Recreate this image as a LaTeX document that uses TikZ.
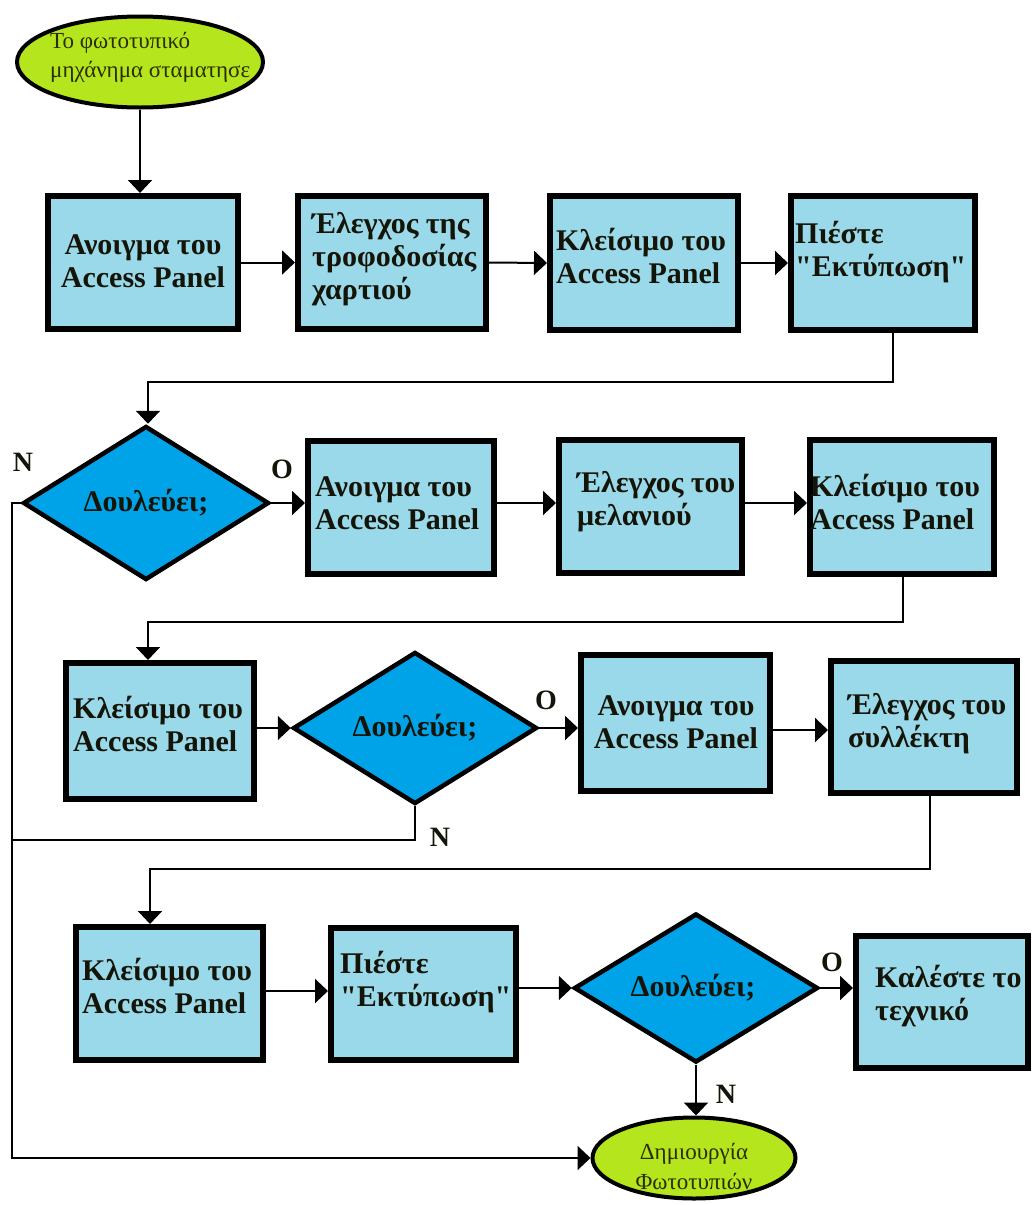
\documentclass[tikz,border=0pt]{standalone}
\usepackage{fontspec}
\setmainfont{Liberation Serif}[Ligatures=TeXOff]
\usetikzlibrary{shapes.geometric,arrows.meta}
\definecolor{boxfill}{HTML}{99D9EA}
\definecolor{decfill}{HTML}{00A2E8}
\definecolor{termfill}{HTML}{B5E61D}
\definecolor{inktext}{HTML}{141408}
\definecolor{termtext}{HTML}{2B2E05}

\begin{document}
\begin{tikzpicture}[x=1pt,y=-1pt,
  box/.style={draw, line width=6pt, fill=boxfill, rectangle, inner sep=0pt},
  decision/.style={draw, line width=4.5pt, fill=decfill, diamond, inner sep=0pt},
  term/.style={draw, line width=4pt, fill=termfill, ellipse, inner sep=0pt},
  btext/.style={font=\fontsize{30}{33}\selectfont\bfseries, text=inktext, inner sep=0pt, align=left, anchor=west},
  ctext/.style={font=\fontsize{30}{33}\selectfont\bfseries, text=inktext, inner sep=0pt, align=center},
  dtext/.style={font=\fontsize{30}{32}\selectfont\bfseries, text=inktext, inner sep=0pt},
  ttext/.style={text=termtext, inner sep=0pt},
  tag/.style={font=\fontsize{28}{30}\selectfont\bfseries, text=inktext, inner sep=0pt},
  wire/.style={line width=2pt},
  conn/.style={line width=2pt, -{Triangle[length=13pt,width=24pt]}}
]
\useasboundingbox (0,0) rectangle (1032,1205);

% terminals
\node[term, minimum width=246, minimum height=91] (start) at (140,62) {};
\node[ttext, font=\fontsize{23}{29}\selectfont, align=left, anchor=west] (startt) at (50,57) {Το φωτοτυπικό\\μηχάνημα σταματησε};
\node[term, minimum width=203, minimum height=81] (end) at (694,1158) {};
\node[ttext, font=\fontsize{23}{30}\selectfont, align=center] (endt) at (694,1166) {Δημιουργία\\Φωτοτυπιών};

% row 1
\node[box, minimum width=190, minimum height=133] (b1) at (143,262.5) {};
\node[box, minimum width=188, minimum height=133] (b2) at (392,262.5) {};
\node[box, minimum width=188, minimum height=134] (b3) at (644,263) {};
\node[box, minimum width=184, minimum height=134] (b4) at (883,263) {};
\node[ctext] (b1t) at (143,261) {Ανοιγμα του\\Access Panel};
\node[btext] (b2t) at (312,259) {Έλεγχος της\\τροφοδοσίας\\χαρτιού};
\node[btext] (b3t) at (556,256) {Κλείσιμο του\\Access Panel};
\node[btext] (b4t) at (795,252) {Πιέστε\\"Εκτύπωση"};

% row 2
\node[decision, minimum width=246, minimum height=154] (d1) at (146,503) {};
\node[dtext] (d1t) at (146,503) {Δουλεύει;};
\node[box, minimum width=186, minimum height=133] (b5) at (401,507.5) {};
\node[box, minimum width=183, minimum height=133] (b6) at (650.5,506.5) {};
\node[box, minimum width=184, minimum height=134] (b7) at (902,507) {};
\node[btext] (b5t) at (315,503) {Ανοιγμα του\\Access Panel};
\node[btext] (b6t) at (577,502) {Έλεγχος του\\μελανιού};
\node[btext] (b7t) at (810,502) {Κλείσιμο του\\Access Panel};

% row 3
\node[box, minimum width=188, minimum height=136] (b8) at (160,731) {};
\node[decision, minimum width=244, minimum height=152] (d2) at (415,728) {};
\node[dtext] (d2t) at (415,728) {Δουλεύει;};
\node[box, minimum width=189, minimum height=136] (b9) at (675.5,723) {};
\node[box, minimum width=186, minimum height=132] (b10) at (924,727) {};
\node[btext] (b8t) at (73,724) {Κλείσιμο του\\Access Panel};
\node[ctext] (b9t) at (676,722) {Ανοιγμα του\\Access Panel};
\node[btext] (b10t) at (848,724) {Έλεγχος του\\συλλέκτη};

% row 4
\node[box, minimum width=187, minimum height=133] (b11) at (169.5,993.5) {};
\node[box, minimum width=185, minimum height=132] (b12) at (423.5,994) {};
\node[decision, minimum width=244, minimum height=149] (d3) at (696,988) {};
\node[dtext] (d3t) at (693,988) {Δουλεύει;};
\node[box, minimum width=172, minimum height=132] (b13) at (942,1002) {};
\node[btext] (b11t) at (82,986) {Κλείσιμο του\\Access Panel};
\node[btext] (b12t) at (340,982) {Πιέστε\\"Εκτύπωση"};
\node[btext] (b13t) at (875,996) {Καλέστε το\\τεχνικό};

% branch labels
\node[tag] (n1) at (23,462) {N};
\node[tag] (o1) at (282,469) {O};
\node[tag] (o2) at (546,700) {O};
\node[tag] (n2) at (440,837) {N};
\node[tag] (o3) at (832,962) {O};
\node[tag] (n3) at (726,1094) {N};

% routing points
\coordinate (r1a) at (893,382);
\coordinate (r1b) at (148,382);
\coordinate (r2a) at (903,622);
\coordinate (r2b) at (148,622);
\coordinate (r3a) at (930,869);
\coordinate (r3b) at (150,869);
\coordinate (nA) at (12,503);
\coordinate (nB) at (12,1158);
\coordinate (nC) at (415,840);
\coordinate (nD) at (12,840);

% connectors
\draw[conn] (start.south) -- (start.south |- b1.north);
\draw[conn] (b1.east) -- (b2.west);
\draw[conn] (b2.east) -- (b3.west);
\draw[conn] (b3.east) -- (b4.west);
\draw[conn] (r1a |- b4.south) -- (r1a) -- (r1b) -- (r1b |- d1.north);

\draw[conn] (d1.east) -- (d1.east -| b5.west);
\draw[conn] (b5.east |- d1.east) -- (d1.east -| b6.west);
\draw[conn] (b6.east |- d1.east) -- (d1.east -| b7.west);
\draw[conn] (r2a |- b7.south) -- (r2a) -- (r2b) -- (r2b |- b8.north);

\draw[conn] (b8.east |- d2.west) -- (d2.west);
\draw[conn] (d2.east) -- (d2.east -| b9.west);
\draw[conn] (b9.east |- 0,730) -- (b10.west |- 0,730);
\draw[conn] (r3a |- b10.south) -- (r3a) -- (r3b) -- (r3b |- b11.north);

\draw[conn] (b11.east |- 0,991) -- (b12.west |- 0,991);
\draw[conn] (b12.east |- d3.west) -- (d3.west);
\draw[conn] (d3.east) -- (d3.east -| b13.west);
\draw[conn] (d3.south) -- (d3.south |- end.north);

\draw[conn] (d1.west) -- (nA) -- (nB) -- (end.west);
\draw[wire] (d2.south) -- (nC) -- (nD);
\end{tikzpicture}
\end{document}
